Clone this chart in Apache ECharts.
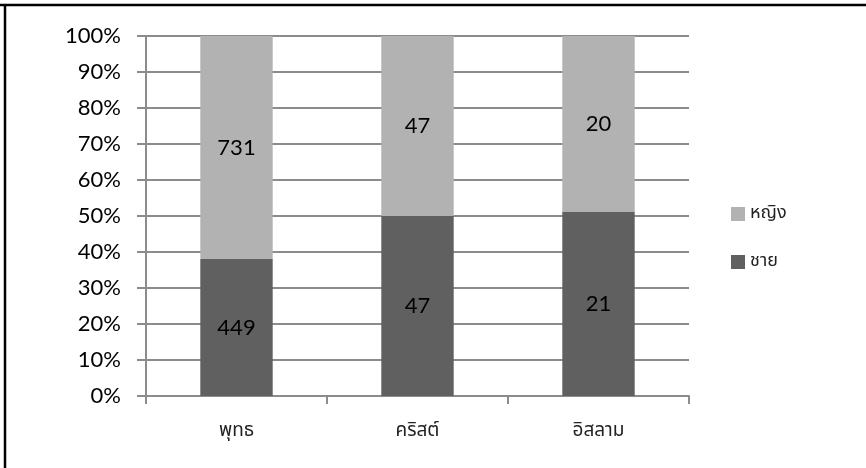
<!DOCTYPE html>
<html>
<head>
<meta charset="utf-8">
<script src="https://cdn.jsdelivr.net/npm/echarts@6/dist/echarts.min.js"></script>
<style>
  html, body { margin: 0; padding: 0; background: #fff; }
  #chart { width: 866px; height: 468px; }
</style>
</head>
<body>
<div id="chart"></div>
<script>
// Religion categories and head counts by sex
const categories = ['พุทธ', 'คริสต์', 'อิสลาม'];
const maleCounts = [449, 47, 21];
const femaleCounts = [731, 47, 20];
const seriesNames = { male: 'ชาย', female: 'หญิง' };

// 100% stacked: each bar is the share of its category total
const totals = categories.map((_, i) => maleCounts[i] + femaleCounts[i]);
const toShare = (arr) => arr.map((v, i) => ({ value: v / totals[i] * 100, count: v }));

const numFont = 'Lato, "Open Sans", sans-serif';
const thaiFont = '"Noto Sans Thai", Tahoma, "DejaVu Sans", sans-serif';

const chart = echarts.init(document.getElementById('chart'));
chart.setOption({
  animation: false,
  backgroundColor: '#fff',
  grid: { left: 146, right: 177, top: 36, bottom: 72 },
  xAxis: {
    type: 'category',
    data: categories,
    axisLine: { lineStyle: { color: '#8c8c8c', width: 2 } },
    axisTick: { show: true, length: 8, alignWithLabel: false, lineStyle: { color: '#8c8c8c', width: 2 } },
    axisLabel: { margin: 27, fontSize: 19, color: '#222', fontFamily: thaiFont },
    splitLine: { show: false }
  },
  yAxis: {
    type: 'value',
    min: 0,
    max: 100,
    interval: 10,
    axisLine: { show: true, lineStyle: { color: '#8c8c8c', width: 2 } },
    axisTick: { show: true, length: 9, lineStyle: { color: '#8c8c8c', width: 2 } },
    axisLabel: { formatter: '{value}%', fontSize: 22, color: '#000', fontFamily: numFont, margin: 25 },
    splitLine: { lineStyle: { color: '#8c8c8c', width: 2 } }
  },
  legend: {
    orient: 'vertical',
    left: 726,
    top: 200,
    itemWidth: 14,
    itemHeight: 14,
    itemGap: 30,
    icon: 'rect',
    data: [seriesNames.female, seriesNames.male],
    textStyle: { fontSize: 18, color: '#222', fontFamily: thaiFont }
  },
  series: [
    {
      name: seriesNames.male,
      type: 'bar',
      stack: 'total',
      barWidth: '40%',
      data: toShare(maleCounts),
      itemStyle: { color: '#606060' },
      label: {
        show: true, position: 'inside', fontSize: 22, color: '#000', fontFamily: numFont,
        formatter: (p) => String(p.data.count)
      }
    },
    {
      name: seriesNames.female,
      type: 'bar',
      stack: 'total',
      barWidth: '40%',
      data: toShare(femaleCounts),
      itemStyle: { color: '#b2b2b2' },
      label: {
        show: true, position: 'inside', fontSize: 22, color: '#000', fontFamily: numFont,
        formatter: (p) => String(p.data.count)
      }
    }
  ],
  graphic: [
    { type: 'line', shape: { x1: 0, y1: 5, x2: 866, y2: 5 }, style: { stroke: '#000', lineWidth: 2.5 } },
    { type: 'line', shape: { x1: 5, y1: 4, x2: 5, y2: 468 }, style: { stroke: '#000', lineWidth: 2.5 } }
  ]
});
</script>
</body>
</html>
